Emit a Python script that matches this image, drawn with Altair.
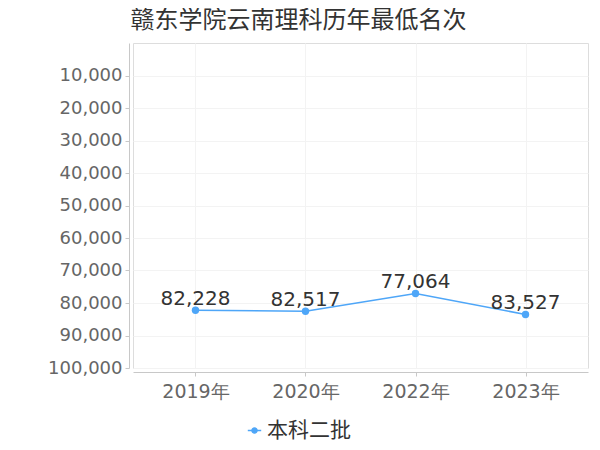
import altair as alt
import pandas as pd

years = ["2019年", "2020年", "2022年", "2023年"]
ranks = [82228, 82517, 77064, 83527]
series = ["本科二批"] * 4
y_ticks = [10000, 20000, 30000, 40000, 50000, 60000, 70000, 80000, 90000, 100000]

df = pd.DataFrame({"year": years, "rank": ranks, "series": series})

blue = "#4ea6f8"
font = "DejaVu Sans"

x = alt.X("year:N", sort=years, title=None,
          scale=alt.Scale(type="point", padding=0.568),
          axis=alt.Axis(labelAngle=0, labelFontSize=19, labelColor="#666", labelFont=font,
                        domainColor="#c8c8c8", tickColor="#c8c8c8", tickSize=4, offset=4,
                        grid=True, gridColor="#f3f3f3", labelPadding=6))
y = alt.Y("rank:Q", title=None,
          scale=alt.Scale(domain=[0, 100000], reverse=True, nice=False),
          axis=alt.Axis(values=y_ticks, format=",.0f", labelFontSize=18, labelColor="#666",
                        labelFont=font, domainColor="#c8c8c8", tickColor="#c8c8c8",
                        tickSize=4, offset=4, grid=True, gridColor="#f3f3f3", labelPadding=3))

color = alt.Color("series:N", title=None,
                  scale=alt.Scale(domain=["本科二批"], range=[blue]),
                  legend=alt.Legend(orient="none", legendX=111, legendY=377,
                                    symbolType="M -1 0 L 1 0 M 0.38 0 A 0.38 0.38 0 1 1 -0.38 0 A 0.38 0.38 0 1 1 0.38 0",
                                    symbolSize=180, symbolStrokeWidth=1.5,
                                    symbolFillColor=blue, symbolStrokeColor=blue,
                                    labelFontSize=21, labelColor="#333",
                                    labelFont="Noto Sans CJK SC", labelOffset=2))

base = alt.Chart(df)
line = base.mark_line(strokeWidth=1.5).encode(x=x, y=y, color=color)
pts = base.mark_point(filled=True, size=55, opacity=1).encode(x=x, y=y, color=color)
labels = base.mark_text(fontSize=20, color="#333", font=font, dy=-5,
                        baseline="alphabetic", align="center").encode(
    x=x, y=y, text=alt.Text("rank:Q", format=","))

chart = alt.layer(line, pts, labels).properties(
    width=455, height=325,
    title=alt.TitleParams("赣东学院云南理科历年最低名次", fontSize=24, color="#333",
                          font="Noto Sans CJK SC", fontWeight="normal",
                          anchor="middle", dx=-62, offset=10),
    autosize=alt.AutoSizeParams(type="none"),
    padding={"left": 125, "top": 35, "right": 4, "bottom": 74},
).configure_view(stroke="#efefef").configure(background="white")

chart.save("out.html", embed_options={"renderer": "svg", "actions": False})
